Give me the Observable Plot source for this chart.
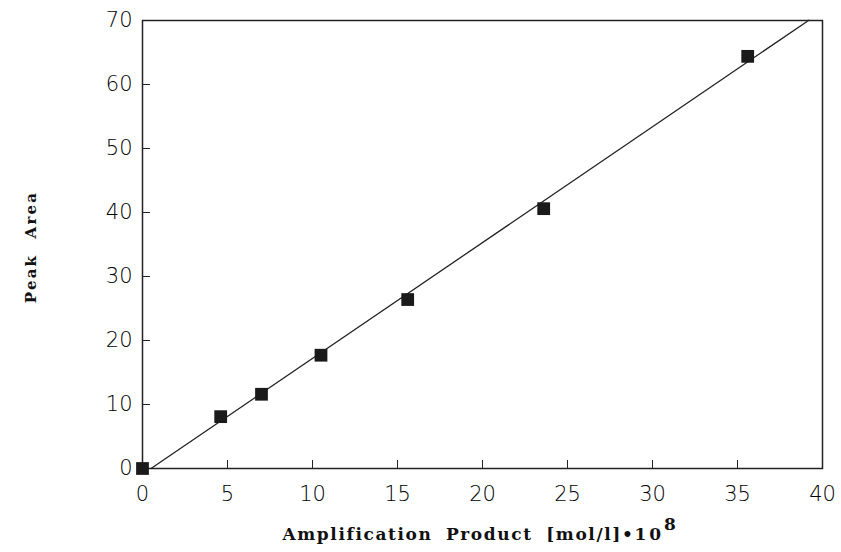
<!DOCTYPE html>
<html>
<head>
<meta charset="utf-8">
<script src="https://cdn.jsdelivr.net/npm/d3@7"></script>
<script src="https://cdn.jsdelivr.net/npm/@observablehq/plot@0.6"></script>
<style>
  html, body { margin: 0; padding: 0; background: #fff; }
  #chart svg { display: block; }
</style>
</head>
<body>
<div id="chart"></div>
<script>
// Data
const amplification = [0, 4.6, 7.0, 10.5, 15.6, 23.6, 35.6];   // [mol/l]*10^8
const peakArea      = [0, 8.1, 11.6, 17.7, 26.4, 40.6, 64.4];
// Fitted calibration line (as drawn in the reference)
const fitSlope = 1.81;
const fitIntercept = -0.9;
const fitRange = [0.5, 39.2];
// Axis ticks
const xTicks = [0, 5, 10, 15, 20, 25, 30, 35, 40];
const yTicks = [0, 10, 20, 30, 40, 50, 60, 70];
const xLabel = "Amplification Product [mol/l]\u2022";
const xLabelPow = "10";
const xLabelExp = "8";
const yLabel = "Peak Area";

const points = amplification.map((x, i) => ({x, y: peakArea[i]}));
const fitLine = fitRange.map(x => ({x, y: fitIntercept + fitSlope * x}));

const W = 841, H = 552;
const plot = Plot.plot({
  width: W,
  height: H,
  marginLeft: 142,
  marginRight: 19,
  marginTop: 20,
  marginBottom: 84,
  x: {domain: [0, 40]},
  y: {domain: [0, 70]},
  style: {fontFamily: "'DejaVu Sans', sans-serif", fontSize: "21px", color: "#000", background: "#fff"},
  marks: [
    Plot.frame({stroke: "#222", strokeWidth: 1.5}),
    Plot.axisX({ticks: xTicks, tickSize: -8, tickPadding: 26, label: null, fontSize: 21, fontWeight: 200, fill: "#000", stroke: "#222"}),
    Plot.axisY({ticks: yTicks, tickSize: -8, tickPadding: 18, label: null, fontSize: 21, fontWeight: 200, fill: "#000", stroke: "#222"}),
    Plot.line(fitLine, {x: "x", y: "y", stroke: "#222", strokeWidth: 1.3}),
    Plot.dot(points, {x: "x", y: "y", symbol: "square", r: 7.2, fill: "#1a1a1a", stroke: "none"})
  ]
});
document.getElementById("chart").appendChild(plot);

// Axis titles (bold serif, as in the reference)
const svg = d3.select(plot);
const serif = "'DejaVu Serif', 'Liberation Serif', serif";
const xt = svg.append("text")
  .attr("x", 480).attr("y", 540)
  .attr("text-anchor", "middle")
  .attr("font-family", serif).attr("font-weight", "bold")
  .attr("font-size", 17).attr("letter-spacing", 1.6)
  .attr("word-spacing", 6)
  .attr("fill", "#111");
xt.append("tspan").text(xLabel);
xt.append("tspan").attr("letter-spacing", 3).text(xLabelPow);
xt.append("tspan").attr("dy", -10).attr("font-size", 17).text(xLabelExp);

svg.append("text")
  .attr("transform", "translate(36,247) rotate(-90)")
  .attr("text-anchor", "middle")
  .attr("font-family", serif).attr("font-weight", "bold")
  .attr("font-size", 15).attr("letter-spacing", 2.2)
  .attr("word-spacing", 8)
  .attr("fill", "#111")
  .text(yLabel);
</script>
</body>
</html>
